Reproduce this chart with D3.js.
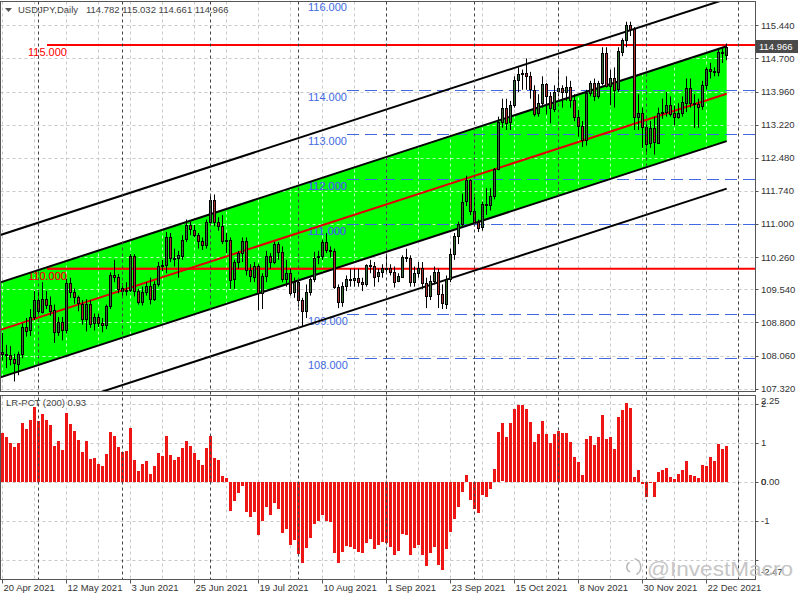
<!DOCTYPE html>
<html><head><meta charset="utf-8">
<script src="https://cdn.jsdelivr.net/npm/d3@7"></script>
<style>
body{margin:0;background:#fff}
svg{display:block}
text{font-family:"Liberation Sans",Arial,sans-serif}
</style>
</head><body><svg id="c" width="800" height="600"></svg>
<script>
// ---------------- DATA ----------------
const symbolTitle = "USDJPY,Daily";
const lastQuote = ["114.782","115.032","114.661","114.966"];
const opens = [108.15,108.10,108.08,107.98,107.88,108.10,108.70,108.62,108.92,109.30,
109.05,109.33,109.20,109.07,108.58,108.80,108.62,109.68,109.48,109.36,
109.22,108.88,109.22,108.78,108.92,108.78,108.74,109.16,109.86,109.82,
109.56,109.50,109.52,110.28,109.50,109.25,109.48,109.62,109.33,109.66,
110.06,110.08,110.70,110.22,110.24,110.30,110.65,110.97,110.87,110.75,
110.62,110.53,111.05,111.54,111.05,110.96,110.62,110.64,109.75,110.14,
110.35,110.62,109.97,109.83,110.07,109.47,109.84,110.29,110.15,110.55,
110.38,109.78,109.91,109.47,109.70,109.30,109.05,109.48,109.77,110.25,
110.28,110.59,110.41,110.40,109.59,109.25,109.61,109.76,109.75,109.79,
109.71,109.66,110.09,110.07,109.83,109.92,110.02,110.02,109.93,109.71,
109.83,110.27,110.25,109.71,109.90,110.01,109.68,109.38,109.72,109.93,
109.43,109.22,109.78,110.33,110.73,111.00,111.50,111.98,111.29,111.05,
110.92,111.44,111.42,111.62,112.23,113.28,113.60,113.27,113.66,114.21,
114.35,114.37,114.30,114.00,113.47,113.70,114.12,113.85,113.58,113.96,
114.03,113.95,114.06,113.78,113.40,113.20,112.88,113.92,114.15,113.87,
114.15,114.83,114.09,114.27,114.00,114.86,115.12,115.45,115.36,113.40,
113.48,113.17,112.80,113.14,112.82,113.48,113.51,113.67,113.47,113.39,
113.48,113.72,114.05,113.71,113.69,113.62,114.10,114.46,114.42,114.39,
114.84,114.782];
const highs = [108.57,108.30,108.27,108.10,108.15,108.78,108.90,109.10,109.50,109.50,
109.70,109.50,109.38,109.20,108.92,108.92,109.78,109.80,109.56,109.40,
109.30,109.32,109.30,109.00,109.00,108.90,109.20,109.92,110.20,109.88,
109.68,109.70,110.33,110.33,109.55,109.60,109.70,109.80,109.72,110.15,
110.20,110.82,110.80,110.45,110.40,110.75,111.10,111.05,110.98,110.80,
110.70,111.10,111.65,111.66,111.15,111.20,110.80,110.70,110.20,110.40,
110.70,110.70,110.10,110.15,110.10,109.90,110.40,110.35,110.60,110.60,
110.50,110.20,110.00,109.80,109.75,109.35,109.65,109.80,110.38,110.40,
110.65,110.80,110.50,110.45,109.65,109.70,109.85,110.00,110.00,110.00,
109.80,110.10,110.20,110.15,110.00,110.10,110.30,110.10,110.05,109.90,
110.30,110.45,110.30,110.05,110.15,110.15,109.80,109.85,110.05,110.00,
109.65,109.85,110.45,110.80,111.05,111.68,112.08,112.00,111.60,111.10,
111.50,111.80,111.80,112.25,113.40,113.80,113.80,113.75,114.30,114.50,
114.45,114.70,114.40,114.10,113.90,114.30,114.15,113.95,114.10,114.45,
114.10,114.30,114.20,113.90,113.55,113.30,114.00,114.20,114.25,114.20,
114.95,114.95,114.45,114.50,114.95,115.15,115.52,115.52,115.40,113.90,
113.60,113.30,113.30,113.40,113.60,113.80,113.95,113.85,113.65,113.70,
113.85,114.25,114.25,113.90,113.80,114.20,114.50,114.60,114.50,114.90,
114.95,115.032];
const lows = [107.95,107.78,107.84,107.48,107.62,108.00,108.48,108.50,108.85,108.98,
109.00,109.10,108.95,108.34,108.50,108.40,108.55,109.35,109.22,109.05,
108.75,108.60,108.68,108.62,108.70,108.58,108.65,109.10,109.70,109.45,
109.35,109.40,109.48,109.38,109.20,109.18,109.40,109.20,109.28,109.60,
109.95,109.90,110.15,110.05,109.80,110.20,110.60,110.75,110.70,110.45,
110.42,110.45,110.98,110.95,110.85,110.55,110.35,109.55,109.55,110.00,
110.15,109.85,109.70,109.70,109.07,109.10,109.70,110.00,110.10,110.20,
109.70,109.60,109.40,109.35,109.15,108.72,108.90,109.40,109.70,110.10,
110.20,110.35,110.25,109.55,109.12,109.15,109.50,109.60,109.60,109.60,
109.50,109.60,109.90,109.60,109.70,109.80,109.90,109.85,109.58,109.70,
109.80,110.15,109.60,109.60,109.80,109.55,109.12,109.30,109.65,109.12,
109.10,109.10,109.70,110.20,110.55,110.95,111.40,111.20,110.95,110.82,
110.85,111.20,111.30,111.55,112.20,113.15,113.10,113.10,113.60,113.95,
114.00,114.00,113.80,113.40,113.40,113.60,113.45,113.25,113.50,113.85,
113.60,113.75,113.60,113.30,112.95,112.72,112.75,113.85,113.75,113.80,
114.10,114.05,113.65,113.60,113.95,114.75,114.95,115.20,113.10,113.10,
112.70,112.55,112.70,112.55,112.80,113.35,113.40,113.40,113.20,113.35,
113.40,113.50,113.60,113.15,113.15,113.55,114.00,114.25,114.30,114.30,
114.60,114.661];
const closes = [108.10,108.08,107.98,107.88,108.10,108.70,108.62,108.92,109.30,109.05,
109.33,109.20,109.07,108.58,108.80,108.62,109.68,109.48,109.36,109.22,
108.88,109.22,108.78,108.92,108.78,108.74,109.16,109.86,109.82,109.56,
109.50,109.52,110.28,109.50,109.25,109.48,109.62,109.33,109.66,110.06,
110.08,110.70,110.22,110.24,110.30,110.65,110.97,110.87,110.75,110.62,
110.53,111.05,111.54,111.05,110.96,110.62,110.64,109.75,110.14,110.35,
110.62,109.97,109.83,110.07,109.47,109.84,110.29,110.15,110.55,110.38,
109.78,109.91,109.47,109.70,109.30,109.05,109.48,109.77,110.25,110.28,
110.59,110.41,110.40,109.59,109.25,109.61,109.76,109.75,109.79,109.71,
109.66,110.09,110.07,109.83,109.92,110.02,110.02,109.93,109.71,109.83,
110.27,110.25,109.71,109.90,110.01,109.68,109.38,109.72,109.93,109.43,
109.22,109.78,110.33,110.73,111.00,111.50,111.98,111.29,111.05,110.92,
111.44,111.42,111.62,112.23,113.28,113.60,113.27,113.66,114.21,114.35,
114.37,114.30,114.00,113.47,113.70,114.12,113.85,113.58,113.96,114.03,
113.95,114.06,113.78,113.40,113.20,112.88,113.92,114.15,113.87,114.15,
114.83,114.09,114.27,114.00,114.86,115.12,115.45,115.36,113.40,113.48,
113.17,112.80,113.14,112.82,113.48,113.51,113.67,113.47,113.39,113.48,
113.72,114.05,113.71,113.69,113.62,114.10,114.46,114.42,114.39,114.84,
114.82,114.966];
const lrPct = [1.26,1.16,0.99,0.89,1.01,1.52,1.35,1.59,1.92,1.57,
1.74,1.59,1.45,0.92,1.06,0.82,1.78,1.49,1.32,1.08,
0.78,1.06,0.60,0.62,0.46,0.41,0.72,1.28,1.18,0.91,
0.77,0.79,1.38,0.56,0.29,0.46,0.55,0.21,0.41,0.75,
0.67,1.18,0.69,0.56,0.65,0.87,1.06,0.92,0.74,0.56,
0.44,0.86,1.18,0.61,0.56,0.15,0.09,-0.74,-0.48,-0.29,
-0.09,-0.76,-0.89,-0.76,-1.35,-1.00,-0.65,-0.84,-0.53,-0.70,
-1.30,-1.21,-1.62,-1.49,-1.85,-2.09,-1.70,-1.44,-1.08,-0.99,
-0.85,-1.00,-1.02,-1.81,-2.07,-1.79,-1.64,-1.67,-1.71,-1.79,
-1.81,-1.56,-1.47,-1.73,-1.62,-1.53,-1.56,-1.66,-1.88,-1.76,
-1.33,-1.37,-1.86,-1.69,-1.62,-1.88,-2.15,-1.83,-1.67,-2.14,
-2.26,-1.73,-1.27,-0.96,-0.65,-0.25,0.18,-0.46,-0.70,-0.79,
-0.33,-0.39,-0.19,0.33,1.29,1.50,1.15,1.52,1.88,1.97,
1.97,1.86,1.53,1.03,1.24,1.57,1.24,0.99,1.24,1.31,
1.26,1.26,1.03,0.64,0.51,0.17,1.09,1.17,0.96,1.15,
1.71,1.09,1.15,0.85,1.67,1.84,2.03,1.91,0.13,0.31,
-0.05,-0.38,-0.03,-0.38,0.26,0.31,0.37,0.13,0.07,0.21,
0.31,0.55,0.17,0.15,0.09,0.44,0.41,0.65,0.55,0.98,
0.84,0.93];
const indName = "LR-PCT (200) 0.93";
const priceTicks = [115.44,114.70,113.96,113.22,112.48,111.74,111.00,110.26,109.54,108.80,108.06,107.32];
const priceTickLabels = ["115.440","114.700","113.960","113.220","112.480","111.740","111.000","110.260","109.540","108.800","108.060","107.320"];
const bidPrice = 114.966, bidLabel = "114.966";
const indTicks = [2.25,2,1,0,0,-1,-2.47];
const indTickLabels = ["2.25","2","1","0.00","0","-1","-2.47"];
const indGrid = [2,1,0,-1,-2];
const timeTickIdx = [0,16,32,48,64,80,96,112,128,144,160,176];
const timeTickLabels = ["20 Apr 2021","12 May 2021","3 Jun 2021","25 Jun 2021","19 Jul 2021","10 Aug 2021","1 Sep 2021","23 Sep 2021","15 Oct 2021","8 Nov 2021","30 Nov 2021","22 Dec 2021"];
const monthSepIdx = [9,30,52,74,96,118,139,161,184];
const gridStepBars = 8;
const redLevels = [115,110], redLabels = ["115.000","110.000"];
const blueLevels = [116,114,113,112,111,109,108], blueLabels = ["116.000","114.000","113.000","112.000","111.000","109.000","108.000"];
const chanIdx = [-18,181];          // regression channel start / end bar
const chanMid = [108.128,113.911];  // centre line price at start / end
const chanDev1 = 1.06, chanDev2 = 2.12;
const watermark = "@InvestMacro";

// ---------------- LAYOUT ----------------
const svg = d3.select("#c");
const M = {l:0.5, r:755.5, t:1.5, b:391.5};
const I = {t:395.5, b:579.5};
const x = d3.scaleLinear().domain([0,181]).range([2.7,726.7]);
const y = d3.scaleLinear().domain([107.257,115.972]).range([391.5,1.5]);
const yi = d3.scaleLinear().domain([-2.47,2.25]).range([578.3,394.25]);
const col = i => Math.floor(x(i));
const AX = "#333";

const defs = svg.append("defs");
defs.append("clipPath").attr("id","mainClip").append("rect")
  .attr("x",M.l).attr("y",M.t).attr("width",M.r-M.l).attr("height",M.b-M.t);
defs.append("clipPath").attr("id","indClip").append("rect")
  .attr("x",M.l).attr("y",I.t).attr("width",M.r-M.l).attr("height",I.b-I.t);

const chanAt = (i,off)=> chanMid[0] + (chanMid[1]-chanMid[0])*(i-chanIdx[0])/(chanIdx[1]-chanIdx[0]) + off;
const polyPts = [[chanIdx[0],chanDev1],[chanIdx[1],chanDev1],[chanIdx[1],-chanDev1],[chanIdx[0],-chanDev1]]
  .map(([i,o])=>[x(i),y(chanAt(i,o))]);
defs.append("clipPath").attr("id","chanClip").append("polygon")
  .attr("points",polyPts.map(p=>p.join(",")).join(" "));

const main = svg.append("g").attr("clip-path","url(#mainClip)");
const ind = svg.append("g").attr("clip-path","url(#indClip)");

// grid (base)
function drawGrid(g, color){
  const vIdx = d3.range(0,190,gridStepBars);
  g.selectAll(null).data(vIdx).join("line")
    .attr("x1",d=>col(d)+0.5).attr("x2",d=>col(d)+0.5).attr("y1",M.t).attr("y2",M.b)
    .attr("stroke",color).attr("stroke-dasharray","3,3");
  g.selectAll(null).data(priceTicks).join("line")
    .attr("x1",M.l).attr("x2",M.r).attr("y1",d=>Math.round(y(d))+0.5).attr("y2",d=>Math.round(y(d))+0.5)
    .attr("stroke",color).attr("stroke-dasharray","3,3");
}
drawGrid(main.append("g"), "#c8c8c8");

// channel fill
main.append("polygon").attr("points",polyPts.map(p=>p.join(",")).join(" ")).attr("fill","#00ff00");

const inChan = main.append("g").attr("clip-path","url(#chanClip)");
drawGrid(inChan.append("g"), "#b4ffb4");

// horizontal level lines
function drawLevels(g, redCol, blueCol, blueText){
  g.selectAll(null).data(redLevels).join("line")
    .attr("x1",47).attr("x2",M.r).attr("y1",d=>y(d)).attr("y2",d=>y(d))
    .attr("stroke",redCol).attr("stroke-width",2);
  g.selectAll(null).data(blueLevels).join("line")
    .attr("x1",347).attr("x2",M.r).attr("y1",d=>Math.round(y(d))+0.5).attr("y2",d=>Math.round(y(d))+0.5)
    .attr("stroke",blueCol).attr("stroke-width",1).attr("stroke-dasharray","12,6");
  g.selectAll(null).data(redLevels).join("text")
    .attr("x",28).attr("y",d=>y(d)+11).attr("font-size",11).attr("fill",redCol).text((d,i)=>redLabels[i]);
  g.selectAll(null).data(blueLevels).join("text")
    .attr("x",308).attr("y",d=>y(d)+11).attr("font-size",11).attr("fill",blueText).text((d,i)=>blueLabels[i]);
}
drawLevels(main.append("g"), "#ff0000", "#4169e1", "#4169e1");
drawLevels(inChan.append("g"), "#8c6418", "#c4dcff", "#3f86c8");

// month separators
svg.append("g").selectAll(null).data(monthSepIdx).join("line")
  .attr("x1",d=>col(d)+0.5).attr("x2",d=>col(d)+0.5).attr("y1",M.t).attr("y2",I.b)
  .attr("stroke","#404040").attr("stroke-dasharray","3,3");

// channel lines
const chanLine = (off,color,w)=> main.append("line")
  .attr("x1",x(chanIdx[0])).attr("y1",y(chanAt(chanIdx[0],off)))
  .attr("x2",x(chanIdx[1])).attr("y2",y(chanAt(chanIdx[1],off)))
  .attr("stroke",color).attr("stroke-width",w);
chanLine(chanDev2,"#000",2); chanLine(-chanDev2,"#000",2);
chanLine(chanDev1,"#000",2); chanLine(-chanDev1,"#000",2);
chanLine(0,"#e00000",2);

// candles
const cg = main.append("g");
const bars = d3.range(closes.length);
cg.selectAll(null).data(bars).join("line")
  .attr("x1",i=>col(i)+0.5).attr("x2",i=>col(i)+0.5)
  .attr("y1",i=>y(highs[i])).attr("y2",i=>y(lows[i])).attr("stroke","#000");
cg.selectAll(null).data(bars).join("rect")
  .attr("x",i=>col(i)-0.5).attr("width",2)
  .attr("y",i=>Math.round(y(Math.max(opens[i],closes[i])))+0.5)
  .attr("height",i=>Math.max(1,Math.round(Math.abs(y(opens[i])-y(closes[i])))))
  .attr("fill",i=>closes[i]>=opens[i]?"#366b36":"#a83030").attr("stroke","#000");

// indicator grid + histogram
const ig = ind.append("g");
ig.selectAll(null).data(d3.range(0,190,gridStepBars)).join("line")
  .attr("x1",d=>col(d)+0.5).attr("x2",d=>col(d)+0.5).attr("y1",I.t).attr("y2",I.b)
  .attr("stroke","#c8c8c8").attr("stroke-dasharray","3,3");
ig.selectAll(null).data(indGrid).join("line")
  .attr("x1",M.l).attr("x2",M.r).attr("y1",d=>Math.round(yi(d))+0.5).attr("y2",d=>Math.round(yi(d))+0.5)
  .attr("stroke","#c8c8c8").attr("stroke-dasharray","3,3");
ind.append("g").selectAll(null).data(bars).join("rect")
  .attr("x",i=>col(i)-1).attr("width",3)
  .attr("y",i=>Math.round(Math.min(yi(0),yi(lrPct[i]))))
  .attr("height",i=>Math.max(1,Math.round(Math.abs(yi(lrPct[i])-yi(0)))))
  .attr("fill","#ee1515");

// frames
svg.append("rect").attr("x",M.l).attr("y",M.t).attr("width",M.r-M.l).attr("height",M.b-M.t)
  .attr("fill","none").attr("stroke","#555");
svg.append("rect").attr("x",M.l).attr("y",I.t).attr("width",M.r-M.l).attr("height",I.b-I.t)
  .attr("fill","none").attr("stroke","#555");

// price axis
const pa = svg.append("g");
pa.selectAll(null).data(priceTicks).join("line")
  .attr("x1",M.r).attr("x2",M.r+3).attr("y1",d=>Math.round(y(d))+0.5).attr("y2",d=>Math.round(y(d))+0.5).attr("stroke","#555");
pa.selectAll(null).data(priceTicks).join("text")
  .attr("x",761).attr("y",d=>y(d)+3.5).attr("font-size",9.5).attr("fill",AX).text((d,i)=>priceTickLabels[i]);
pa.append("rect").attr("x",756).attr("y",y(bidPrice)-6.5).attr("width",42).attr("height",13).attr("fill","#4a4a4a");
pa.append("text").attr("x",759).attr("y",y(bidPrice)+3.5).attr("font-size",9.5).attr("fill","#fff").text(bidLabel);

// indicator axis
const ia = svg.append("g");
ia.selectAll(null).data(indGrid).join("line")
  .attr("x1",M.r).attr("x2",M.r+3).attr("y1",d=>Math.round(yi(d))+0.5).attr("y2",d=>Math.round(yi(d))+0.5).attr("stroke","#555");
ia.selectAll(null).data(indTicks).join("text")
  .attr("x",761).attr("y",(d,i)=>{let v=yi(d)+3.5; if(i===0) v=yi(d)+10; if(i===indTicks.length-1) v=yi(d)-3; return v;})
  .attr("font-size",9.5).attr("fill",AX).text((d,i)=>indTickLabels[i]);

// time axis
const ta = svg.append("g");
ta.selectAll(null).data(timeTickIdx).join("line")
  .attr("x1",d=>col(d)+0.5).attr("x2",d=>col(d)+0.5).attr("y1",I.b).attr("y2",I.b+4).attr("stroke","#555");
ta.selectAll(null).data(timeTickIdx).join("text")
  .attr("x",d=>col(d)+1.5).attr("y",591).attr("font-size",9.5).attr("fill",AX).text((d,i)=>timeTickLabels[i]);

// header
svg.append("path").attr("d","M5,8 L12,8 L8.5,12 Z").attr("fill","#555");
svg.append("text").attr("x",18).attr("y",13).attr("font-size",9.5).attr("fill","#444").text(symbolTitle);
svg.append("text").attr("x",86).attr("y",13).attr("font-size",9.5).attr("fill","#444").text(lastQuote.join(" "));
svg.append("text").attr("x",6).attr("y",406).attr("font-size",9.5).attr("fill","#444").text(indName);

// watermark
const wm = svg.append("g").attr("opacity",0.9);
wm.append("path").attr("transform","translate(632,567)")
  .attr("d",d3.arc()({innerRadius:8,outerRadius:9.5,startAngle:0.3,endAngle:2.6}))
  .attr("fill","#b0b0b0");
wm.append("path").attr("transform","translate(632,567)")
  .attr("d",d3.arc()({innerRadius:4.5,outerRadius:6,startAngle:3.5,endAngle:5.8}))
  .attr("fill","#b0b0b0");
wm.append("text").attr("x",647).attr("y",576).attr("font-size",21).attr("font-family","Open Sans")
  .attr("textLength",146).attr("lengthAdjust","spacingAndGlyphs")
  .attr("fill","#c0c0c0").text(watermark);
</script></body></html>
